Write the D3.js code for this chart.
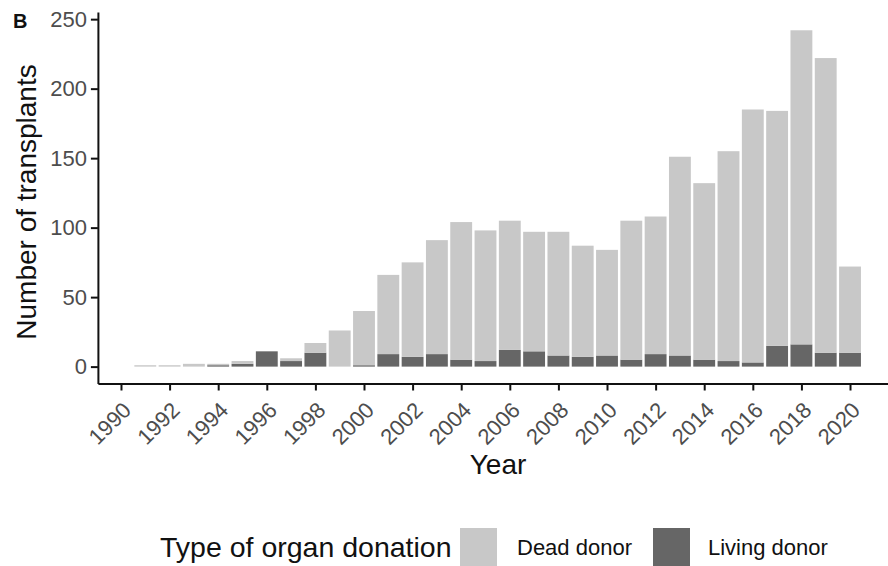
<!DOCTYPE html>
<html>
<head>
<meta charset="utf-8">
<script src="https://cdn.jsdelivr.net/npm/d3@7"></script>
<style>
  body { margin: 0; background: #fff; }
  text { font-family: "Liberation Sans", Arial, sans-serif; }
</style>
</head>
<body>
<div id="my_dataviz"></div>
<script>
// data
var years  = [1991, 1992, 1993, 1994, 1995, 1996, 1997, 1998, 1999, 2000,
              2001, 2002, 2003, 2004, 2005, 2006, 2007, 2008, 2009, 2010,
              2011, 2012, 2013, 2014, 2015, 2016, 2017, 2018, 2019, 2020];
var living = [0, 0, 0, 1, 2, 11, 4, 10, 0, 1,
              9, 7, 9, 5, 4, 12, 11, 8, 7, 8,
              5, 9, 8, 5, 4, 3, 15, 16, 10, 10];
var dead   = [1, 1, 2, 1, 2, 0, 2, 7, 26, 39,
              57, 68, 82, 99, 94, 93, 86, 89, 80, 76,
              100, 99, 143, 127, 151, 182, 169, 226, 212, 62];
var xTicks = d3.range(1990, 2021, 2);
var yTicks = [0, 50, 100, 150, 200, 250];
var seriesNames = ["Dead donor", "Living donor"];

var colors = {"Dead donor": "#c8c8c8", "Living donor": "#666666"};

var W = 888, H = 566;

var svg = d3.select("#my_dataviz")
  .append("svg")
    .attr("width", W)
    .attr("height", H);

var x = d3.scaleLinear()
  .domain([1989.05, 2021.95])
  .range([97.9, 897.4]);

var y = d3.scaleLinear()
  .domain([-12.15, 255.15])
  .range([383.5, 12]);

var yearW = x(1991) - x(1990);

// stack living at bottom, dead on top
var rows = years.map(function(yr, i) {
  return {year: yr, "Living donor": living[i], "Dead donor": dead[i]};
});
var stack = d3.stack().keys(["Living donor", "Dead donor"]);
var layers = stack(rows);

svg.append("g")
  .selectAll("g")
  .data(layers)
  .enter().append("g")
    .attr("fill", function(d) { return colors[d.key]; })
  .selectAll("rect")
  .data(function(d) { return d; })
  .enter().append("rect")
    .attr("x", function(d) { return x(d.data.year) - yearW * 0.45; })
    .attr("width", yearW * 0.9)
    .attr("y", function(d) { return y(d[1]); })
    .attr("height", function(d) { return y(d[0]) - y(d[1]); });

// axes
var yAxis = svg.append("g")
  .attr("transform", "translate(97.9,0)")
  .call(d3.axisLeft(y).tickValues(yTicks).tickSize(7).tickPadding(4).tickSizeOuter(0));

var xAxis = svg.append("g")
  .attr("transform", "translate(0,383.5)")
  .call(d3.axisBottom(x).tickValues(xTicks).tickFormat(d3.format("d")).tickSize(7).tickSizeOuter(0));

[yAxis, xAxis].forEach(function(a) {
  a.select(".domain").attr("stroke", "#111").attr("stroke-width", 2);
  a.selectAll(".tick line").attr("stroke", "#111").attr("stroke-width", 2);
  a.selectAll(".tick text")
    .attr("fill", "#4d4d4d")
    .style("font-family", "'Liberation Sans', Arial, sans-serif")
    .style("font-size", "22px");
});

xAxis.selectAll(".tick text")
  .attr("y", 0)
  .attr("dy", 0)
  .attr("text-anchor", "end")
  .attr("transform", "translate(11,28) rotate(-45)");

// titles
svg.append("text")
  .attr("x", 13).attr("y", 28)
  .style("font-size", "20px")
  .style("font-weight", "bold")
  .attr("fill", "#111")
  .text("B");

svg.append("text")
  .attr("transform", "translate(36,202) rotate(-90)")
  .attr("text-anchor", "middle")
  .style("font-size", "28px")
  .attr("fill", "#111")
  .text("Number of transplants");

svg.append("text")
  .attr("x", 498).attr("y", 474)
  .attr("text-anchor", "middle")
  .style("font-size", "28px")
  .attr("fill", "#111")
  .text("Year");

// legend
var legend = svg.append("g");
legend.append("text")
  .attr("x", 160).attr("y", 557)
  .style("font-size", "28.5px")
  .attr("fill", "#111")
  .text("Type of organ donation");

var keyX = [460, 653];
var labX = [517, 708];
seriesNames.forEach(function(name, i) {
  legend.append("rect")
    .attr("x", keyX[i]).attr("y", 528)
    .attr("width", 37).attr("height", 38)
    .attr("fill", colors[name]);
  legend.append("text")
    .attr("x", labX[i]).attr("y", 555)
    .style("font-size", "22px")
    .attr("fill", "#111")
    .text(name);
});
</script>
</body>
</html>
